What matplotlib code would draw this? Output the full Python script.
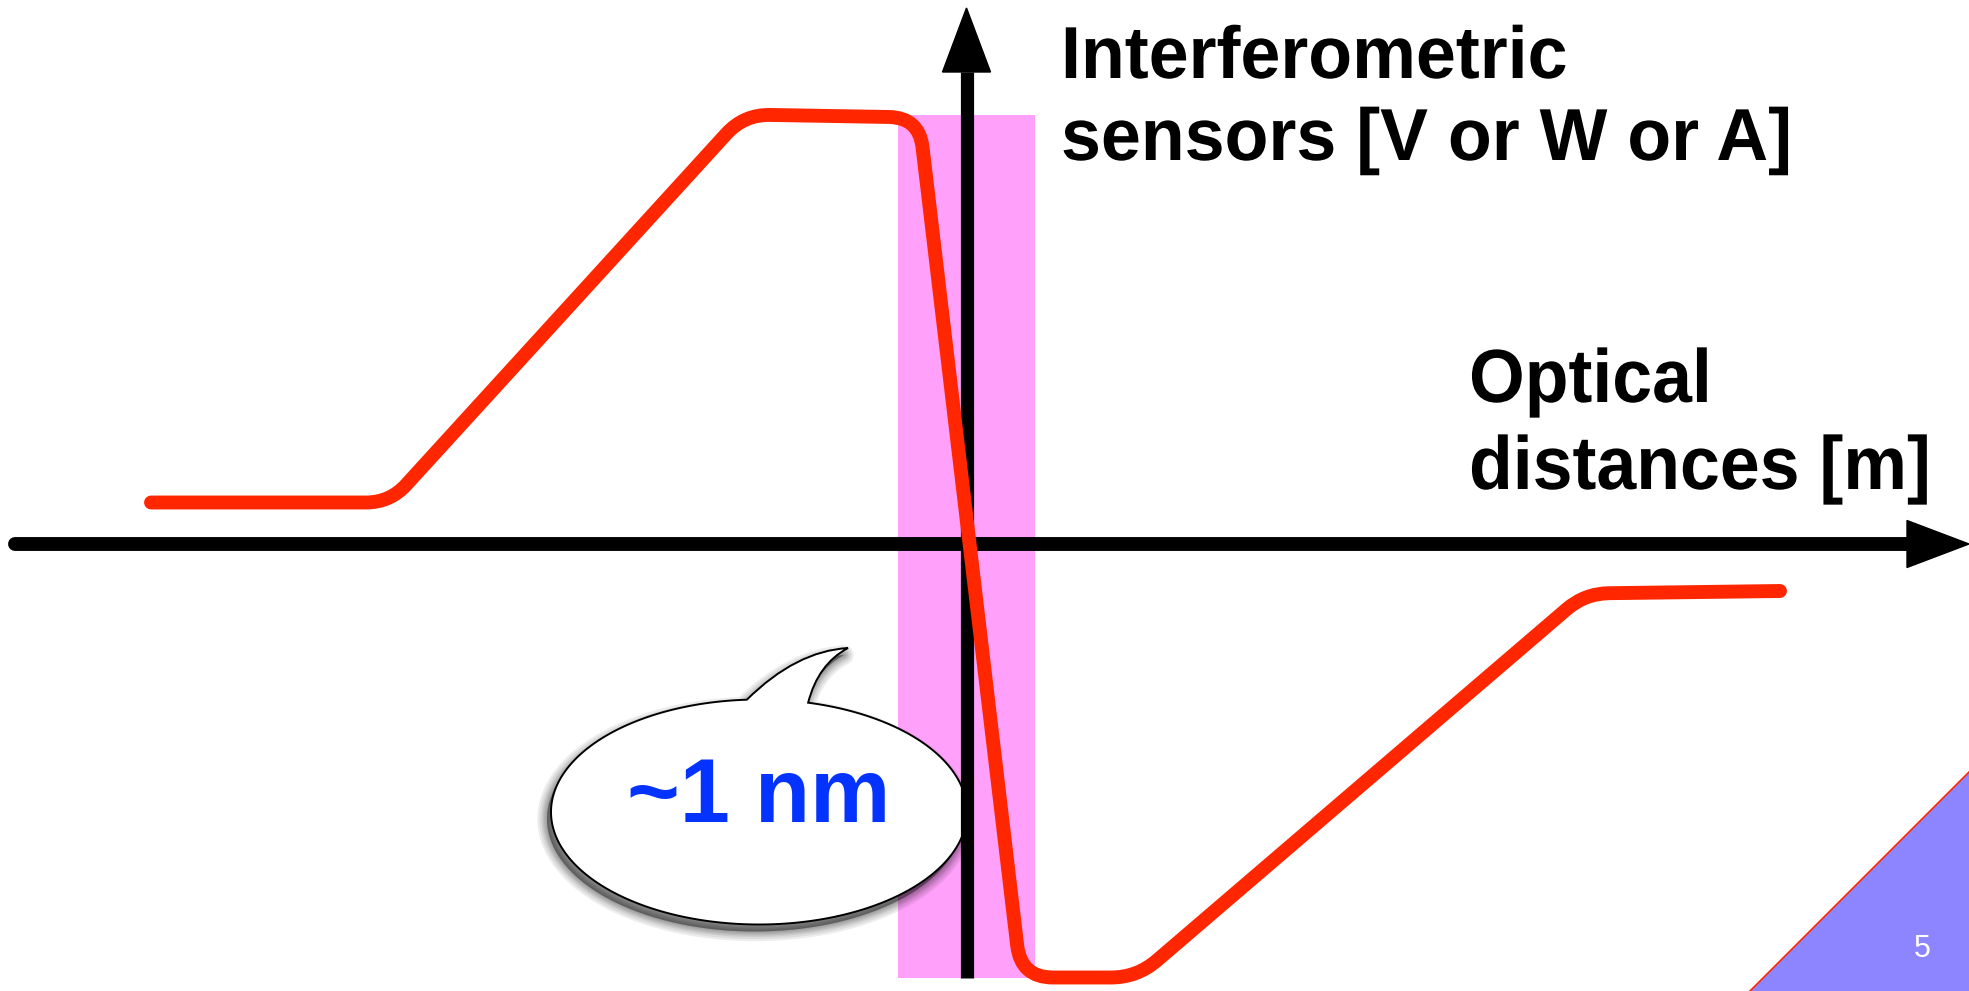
'''
Sketch of an interferometric sensor response vs optical distance
'''

import numpy as np
import matplotlib
matplotlib.use('Agg')
import matplotlib.pyplot as plt
import matplotlib.patheffects as pe
from matplotlib.path import Path
from matplotlib.patches import PathPatch, Polygon, Rectangle
from matplotlib.transforms import Affine2D

plt.rcParams['font.family'] = ['Liberation Sans', 'DejaVu Sans']

# slide is drawn in its own pixel units (x right, y down)
W, H = 1969, 991

# red response curve: corner points
curve_x = [151, 390, 744, 919, 1021, 1137, 1585, 1780]
curve_y = [502.5, 502.5, 114.5, 117.5, 977.5, 977.5, 593.5, 591]
corner_radius = [24, 26, 30, 32, 26, 24]

# linear range band
band_x = [898, 1035]
band_y = [115, 978]

# axes
x_axis_y = 544
x_axis_span = [15, 1907, 1969]      # start, arrow base, arrow tip
y_axis_x = 966.5
y_axis_span = [978, 72, 8]

# speech bubble
bubble_center = (759, 812)
bubble_size = (416, 225)
tail_tip = (848, 648)
tail_ctrl = [(796, 651), (818, 664)]

ylabel_lines = ['Interferometric', 'sensors [V or W or A]']
xlabel_lines = ['Optical', 'distances [m]']
bubble_text = '~1 nm'
page_number = '5'

RED = '#FF2600'


class Squeeze(pe.AbstractPathEffect):
    '''Draw the text a bit narrower than the font, like the slide labels'''

    def __init__(self, sx):
        super().__init__()
        self.sx = sx

    def draw_path(self, renderer, gc, tpath, affine, rgbFace=None):
        renderer.draw_path(gc, tpath, Affine2D().scale(self.sx, 1.0) + affine, rgbFace)


def rounded_path(xs, ys, radii):
    pts = np.column_stack([xs, ys]).astype(float)
    verts = [pts[0]]
    codes = [Path.MOVETO]
    for i in range(1, len(pts) - 1):
        p0, p1, p2 = pts[i - 1], pts[i], pts[i + 1]
        d1 = p1 - p0
        d2 = p2 - p1
        l1 = np.hypot(*d1)
        l2 = np.hypot(*d2)
        rr = min(radii[i - 1], l1 / 2, l2 / 2)
        verts += [p1 - d1 / l1 * rr, p1, p1 + d2 / l2 * rr]
        codes += [Path.LINETO, Path.CURVE3, Path.CURVE3]
    verts.append(pts[-1])
    codes.append(Path.LINETO)
    return Path(verts, codes)


def bubble_path():
    cx, cy = bubble_center
    a, b = bubble_size[0] / 2, bubble_size[1] / 2
    t_end = np.arctan2((703 - cy) / b, (808 - cx) / a)
    t_start = np.arctan2((701 - cy) / b, (747 - cx) / a) + 2 * np.pi
    t = np.linspace(t_end, t_start, 240)
    verts = list(np.column_stack([cx + a * np.cos(t), cy + b * np.sin(t)]))
    codes = [Path.MOVETO] + [Path.LINETO] * (len(t) - 1)
    verts += [tail_ctrl[0], tail_tip, tail_ctrl[1], verts[0], verts[0]]
    codes += [Path.CURVE3, Path.CURVE3, Path.CURVE3, Path.CURVE3, Path.CLOSEPOLY]
    return Path(verts, codes)


fig = plt.figure(figsize=(W / 100, H / 100), dpi=100)
ax = fig.add_axes([0, 0, 1, 1])
ax.set_xlim(0, W)
ax.set_ylim(H, 0)
ax.axis('off')

# magenta band
ax.add_patch(Rectangle((band_x[0], band_y[0]), band_x[1] - band_x[0], band_y[1] - band_y[0],
                       facecolor='#FFA0FA', edgecolor='none', zorder=1))

# speech bubble with a soft drop shadow
bp = bubble_path()
shadow = bp.transformed(Affine2D().translate(-4, 7))
for lw in [14, 11, 8, 6, 4, 2, 0]:
    ax.add_patch(PathPatch(shadow, facecolor='black', edgecolor='black', lw=lw,
                           alpha=0.07, joinstyle='round', zorder=2))
ax.add_patch(PathPatch(bp, facecolor='white', edgecolor='black', lw=1.4, zorder=3))
ax.text(bubble_center[0], 822, bubble_text, color='#0433FF', fontsize=65,
        fontweight='bold', ha='center', va='baseline', zorder=4)

# axes with arrows
ax.plot([x_axis_span[0], x_axis_span[1]], [x_axis_y, x_axis_y], color='k', lw=10,
        solid_capstyle='round', zorder=5)
ax.add_patch(Polygon([(x_axis_span[1], x_axis_y - 23.5), (x_axis_span[2], x_axis_y),
                      (x_axis_span[1], x_axis_y + 23.5)], closed=True, color='k', zorder=5))
ax.plot([y_axis_x, y_axis_x], [y_axis_span[0], y_axis_span[1]], color='k', lw=9.5,
        solid_capstyle='butt', zorder=5)
ax.add_patch(Polygon([(y_axis_x - 24, y_axis_span[1]), (y_axis_x, y_axis_span[2]),
                      (y_axis_x + 24, y_axis_span[1])], closed=True, color='k', zorder=5))

# response curve
ax.add_patch(PathPatch(rounded_path(curve_x, curve_y, corner_radius), fill=False,
                       edgecolor=RED, lw=10, capstyle='round', joinstyle='round', zorder=6))

# axis labels
for line, base in zip(ylabel_lines, [78, 160]):
    ax.text(1061, base, line, fontsize=53, fontweight='bold', ha='left', va='baseline',
            path_effects=[Squeeze(0.975)], zorder=7)
for line, base in zip(xlabel_lines, [402, 489]):
    ax.text(1469, base, line, fontsize=54.3, fontweight='bold', ha='left', va='baseline',
            path_effects=[Squeeze(0.95)], zorder=7)

# page corner
ax.add_patch(Polygon([(1750, H), (W, 772), (W, H)], closed=True, facecolor='#8C85FF',
                     edgecolor='none', zorder=8))
ax.plot([1750, W], [H, 772], color=RED, lw=1.2, zorder=9)
ax.text(1922, 957, page_number, color='white', fontsize=22, ha='center', va='baseline', zorder=10)

fig.savefig('out.png', dpi=100)
